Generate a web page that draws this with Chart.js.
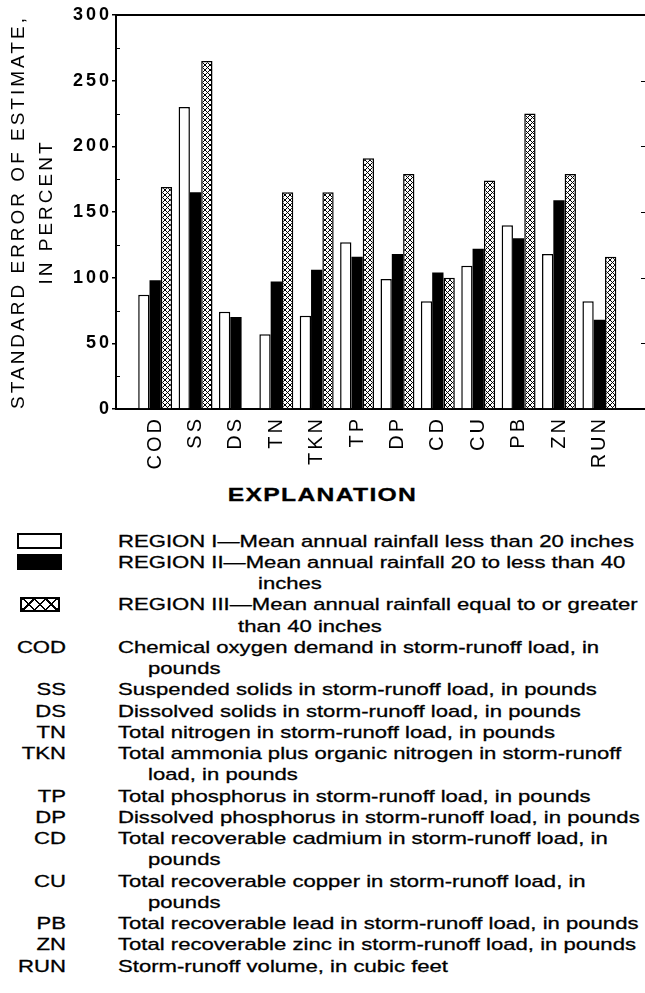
<!DOCTYPE html>
<html>
<head>
<meta charset="utf-8">
<title>Standard error of estimate by rainfall region</title>
<script src="https://cdn.jsdelivr.net/npm/chart.js@4.4.1/dist/chart.umd.min.js"></script>
<style>
  html, body { margin: 0; padding: 0; background: #fff; }
  body { position: relative; width: 645px; height: 993px; overflow: hidden;
         font-family: "Liberation Sans", Arial, sans-serif; color: #000; }
  #chartBox { position: absolute; left: 0; top: 0; width: 645px; height: 470px; }
  .line { position: absolute; height: 21px; line-height: 21px; font-size: 17px;
          white-space: nowrap; transform-origin: 0 50%; -webkit-text-stroke: 0.3px #000; }
  .abbr { left: 0; width: 66px; text-align: right; transform-origin: 100% 50%; }
  .head { left: 0; width: 645px; text-align: center; font-weight: bold; font-size: 19px;
          letter-spacing: 1px; transform-origin: 50% 50%; }
  .swatch { position: absolute; box-sizing: border-box; border: 2px solid #000; }
</style>
</head>
<body>
<div id="chartBox"><canvas id="errorChart" width="645" height="470"></canvas></div>
<div id="explanation"></div>
<script>
// ---- data ----
const categories = ["COD", "SS", "DS", "TN", "TKN", "TP", "DP", "CD", "CU", "PB", "ZN", "RUN"];
const region1 = [87, 230, 74, 57, 71, 127, 99, 82, 109, 140, 118, 82];
const region2 = [98, 165, 70, 97, 106, 116, 118, 104, 122, 130, 159, 68];
const region3 = [169, 265, null, 165, 165, 191, 179, 100, 174, 225, 179, 116];
const yTicks = [0, 50, 100, 150, 200, 250, 300];
const yMinorTicks = [25, 75, 125, 175, 225, 275];
const rightTicks = [50, 100, 150, 200, 250];
const yTitle = ["STANDARD ERROR OF ESTIMATE,", "IN PERCENT"];

const regionText = [
  ["REGION I\u2014Mean annual rainfall less than 20 inches"],
  ["REGION II\u2014Mean annual rainfall 20 to less than 40", "inches"],
  ["REGION III\u2014Mean annual rainfall equal to or greater", "than 40 inches"]
];
const descriptions = [
  ["Chemical oxygen demand in storm-runoff load, in", "pounds"],
  ["Suspended solids in storm-runoff load, in pounds"],
  ["Dissolved solids in storm-runoff load, in pounds"],
  ["Total nitrogen in storm-runoff load, in pounds"],
  ["Total ammonia plus organic nitrogen in storm-runoff", "load, in pounds"],
  ["Total phosphorus in storm-runoff load, in pounds"],
  ["Dissolved phosphorus in storm-runoff load, in pounds"],
  ["Total recoverable cadmium in storm-runoff load, in", "pounds"],
  ["Total recoverable copper in storm-runoff load, in", "pounds"],
  ["Total recoverable lead in storm-runoff load, in pounds"],
  ["Total recoverable zinc in storm-runoff load, in pounds"],
  ["Storm-runoff volume, in cubic feet"]
];

const FONT = "'Liberation Sans', Arial, sans-serif";
const ctx = document.getElementById("errorChart").getContext("2d");

// cross-hatch fill for region III
function makeHatch() {
  const c = document.createElement("canvas");
  c.width = 5;
  c.height = 5;
  const g = c.getContext("2d");
  g.fillStyle = "#fff";
  g.fillRect(0, 0, 5, 5);
  g.strokeStyle = "#000";
  g.lineWidth = 1;
  g.beginPath();
  g.moveTo(0, 0); g.lineTo(5, 5);
  g.moveTo(5, 0); g.lineTo(0, 5);
  g.stroke();
  return ctx.createPattern(c, "repeat");
}

const toPoints = vals => vals.map((v, i) => ({ x: i, y: v }));

// wide letter spacing like the original lettering
const spacing = {
  id: "spacing",
  beforeUpdate(chart) { chart.ctx.letterSpacing = "3px"; },
  beforeDraw(chart) { chart.ctx.letterSpacing = "3px"; },
  afterDatasetsDraw(chart) { chart.ctx.letterSpacing = "1px"; },
  afterDraw(chart) { chart.ctx.letterSpacing = "0px"; }
};

// top border line and small inward ticks
const frame = {
  id: "frame",
  afterDraw(chart) {
    const { ctx, chartArea: a, scales: { y } } = chart;
    ctx.save();
    ctx.strokeStyle = "#000";
    ctx.lineWidth = 2;
    ctx.beginPath();
    ctx.moveTo(a.left - 1, a.top);
    ctx.lineTo(a.right, a.top);
    ctx.stroke();
    ctx.lineWidth = 1.2;
    ctx.beginPath();
    yMinorTicks.forEach(v => {
      const py = Math.round(y.getPixelForValue(v)) + 0.5;
      ctx.moveTo(a.left, py);
      ctx.lineTo(a.left + 4, py);
    });
    rightTicks.forEach(v => {
      const py = Math.round(y.getPixelForValue(v)) + 0.5;
      ctx.moveTo(a.right - 4, py);
      ctx.lineTo(a.right, py);
    });
    ctx.stroke();
    ctx.restore();
  }
};

new Chart(ctx, {
  type: "bar",
  data: {
    datasets: [
      {
        label: "Region I",
        data: toPoints(region1),
        backgroundColor: "#fff",
        borderColor: "#000",
        borderWidth: 1.5
      },
      {
        label: "Region II",
        data: toPoints(region2),
        backgroundColor: "#000",
        borderWidth: 0
      },
      {
        label: "Region III",
        data: toPoints(region3),
        backgroundColor: makeHatch(),
        borderColor: "#000",
        borderWidth: 1.5
      }
    ]
  },
  options: {
    responsive: false,
    animation: false,
    events: [],
    datasets: { bar: { categoryPercentage: 0.84, barPercentage: 1 } },
    layout: { padding: { top: 15, right: 0, bottom: 0, left: 0 } },
    plugins: {
      legend: { display: false },
      tooltip: { enabled: false }
    },
    scales: {
      x: {
        type: "linear",
        bounds: "data",
        min: -0.97,
        max: 12.13,
        offset: false,
        z: 1,
        grid: { display: false, drawTicks: false, offset: false },
        border: { display: true, color: "#000", width: 2 },
        afterBuildTicks: s => { s.ticks = categories.map((c, i) => ({ value: i })); },
        ticks: {
          autoSkip: false,
          minRotation: 90,
          maxRotation: 90,
          padding: 7,
          color: "#000",
          font: { family: FONT, size: 20 },
          callback: v => categories[v]
        },
        afterFit: s => { s.height = 61; }
      },
      y: {
        min: 0,
        max: 300,
        afterBuildTicks: s => { s.ticks = yTicks.map(v => ({ value: v })); },
        grid: { drawOnChartArea: false, drawTicks: true, tickLength: 4, color: "#000", lineWidth: 1.5 },
        border: { display: true, color: "#000", width: 2 },
        ticks: {
          padding: 0,
          color: "#000",
          font: { family: FONT, size: 18, weight: "bold" }
        },
        title: {
          display: true,
          text: yTitle,
          color: "#000",
          font: { family: FONT, size: 19, lineHeight: 1.45 },
          padding: { top: 5, bottom: 0 }
        },
        afterFit: s => { s.width = 116; }
      }
    }
  },
  plugins: [spacing, frame]
});

// ---- explanation block ----
const stretch = 1.3;
const firstRowY = 541;
const rowStep = 21.25;
const regionWrapX = [null, 258, 238];
const textX = 118;
const wrapX = 148;
const expl = document.getElementById("explanation");

function addText(text, cls, left, centerY) {
  const d = document.createElement("div");
  d.className = "line " + cls;
  d.textContent = text;
  d.style.top = (centerY - 10.5) + "px";
  if (left !== null) d.style.left = left + "px";
  d.style.transform = "scaleX(" + stretch + ")";
  expl.appendChild(d);
}

function addSwatch(left, centerY, w, h, bg) {
  const s = document.createElement("div");
  s.className = "swatch";
  s.style.left = left + "px";
  s.style.top = (centerY - h / 2) + "px";
  s.style.width = w + "px";
  s.style.height = h + "px";
  s.style.background = bg;
  expl.appendChild(s);
}

addText("EXPLANATION", "head", null, 494);

let row = 0;
const swatchFill = [
  "#fff",
  "#000",
  "repeating-linear-gradient(45deg, #000 0 1.5px, transparent 1.5px 8px), repeating-linear-gradient(-45deg, #000 0 1.5px, #fff 1.5px 8px)"
];
regionText.forEach((lines, i) => {
  const y0 = firstRowY + row * rowStep;
  if (i < 2) addSwatch(17, y0, 45, 16, swatchFill[i]);
  else addSwatch(20, y0, 40, 15, swatchFill[i]);
  lines.forEach((t, j) => {
    addText(t, "", j === 0 ? textX : regionWrapX[i], firstRowY + row * rowStep);
    row++;
  });
});

categories.forEach((abbr, i) => {
  addText(abbr, "abbr", null, firstRowY + row * rowStep);
  descriptions[i].forEach((t, j) => {
    addText(t, "", j === 0 ? textX : wrapX, firstRowY + row * rowStep);
    row++;
  });
});
</script>
</body>
</html>
